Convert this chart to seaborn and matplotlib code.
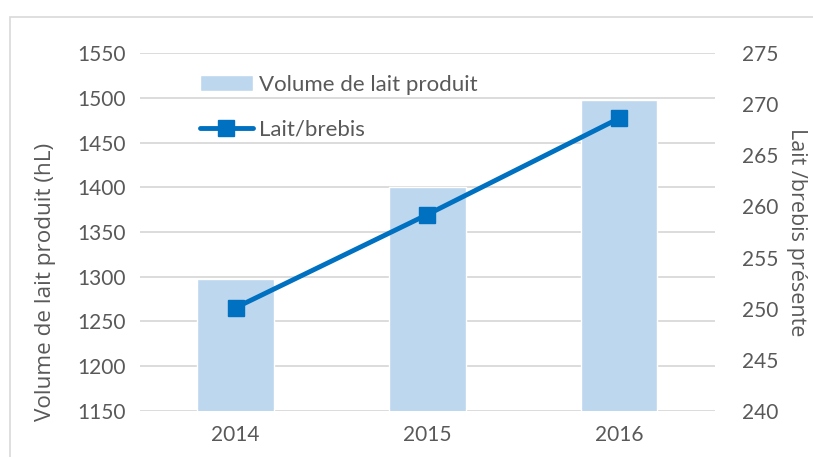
import numpy as np
import pandas as pd
import seaborn as sns
import matplotlib.pyplot as plt
from matplotlib.patches import Rectangle

years = ["2014", "2015", "2016"]
volume = [1298, 1400, 1498]
lait_brebis = [250.1, 259.2, 268.6]

BAR_C = "#BDD7EE"
LINE_C = "#0070C0"
TXT_C = "#595959"
GRID_C = "#D9D9D9"

sns.set_theme(style="white")
plt.rcParams["font.family"] = ["Lato", "DejaVu Sans"]
plt.rcParams["font.size"] = 15

df = pd.DataFrame({"annee": years, "volume": volume, "lait": lait_brebis})

fig = plt.figure(figsize=(8.13, 4.57), dpi=100)
ax = fig.add_axes([0.172, 0.1007, 0.707, 0.7833])

sns.barplot(data=df, x="annee", y="volume", color=BAR_C, saturation=1,
            width=0.40, ax=ax, label="Volume de lait produit", zorder=2)
ax.set_ylim(1150, 1550)
ax.set_yticks(range(1150, 1551, 50))
ax.set_xlim(-0.5, 2.5)
ax.grid(axis="y", color=GRID_C, linewidth=1.3, zorder=0)
ax.set_axisbelow(True)
for s in ax.spines.values():
    s.set_visible(False)
ax.tick_params(axis="both", length=0, labelsize=15, colors=TXT_C, pad=10)
ax.set_xlabel("")
ax.set_ylabel("Volume de lait produit (hL)", fontsize=16.2, color=TXT_C,
              family=["Open Sans", "DejaVu Sans"])
ax.yaxis.set_label_coords(-0.146, 0.36)
if ax.get_legend() is not None:
    ax.get_legend().remove()

ax2 = ax.twinx()
ax2.plot(np.arange(len(years)), df["lait"], color=LINE_C, linewidth=3.5,
         marker="s", markersize=12, label="Lait/brebis", zorder=3)
ax2.set_ylim(240, 275)
ax2.set_yticks(range(240, 276, 5))
for s in ax2.spines.values():
    s.set_visible(False)
ax2.tick_params(axis="y", length=0, labelsize=15, colors=TXT_C, pad=20)
ax2.set_ylabel("Lait /brebis présente", fontsize=15.5, color=TXT_C,
               family=["Open Sans", "DejaVu Sans"], rotation=270, labelpad=20)
ax.set_xlim(-0.5, 2.5)

h1, l1 = ax.get_legend_handles_labels()
h2, l2 = ax2.get_legend_handles_labels()
leg = ax2.legend(h1 + h2, l1 + l2, loc="upper left", bbox_to_anchor=(0.085, 0.97),
                 frameon=False, fontsize=16, handlelength=2.4, handleheight=0.7,
                 handletextpad=0.25, labelspacing=1.1, borderpad=0)
for t in leg.get_texts():
    t.set_color(TXT_C)

fig.patches.append(Rectangle((0.012, -0.01), 1.0, 0.973, transform=fig.transFigure,
                             fill=False, edgecolor=GRID_C, linewidth=1.2))

fig.savefig("out.png", dpi=100)
